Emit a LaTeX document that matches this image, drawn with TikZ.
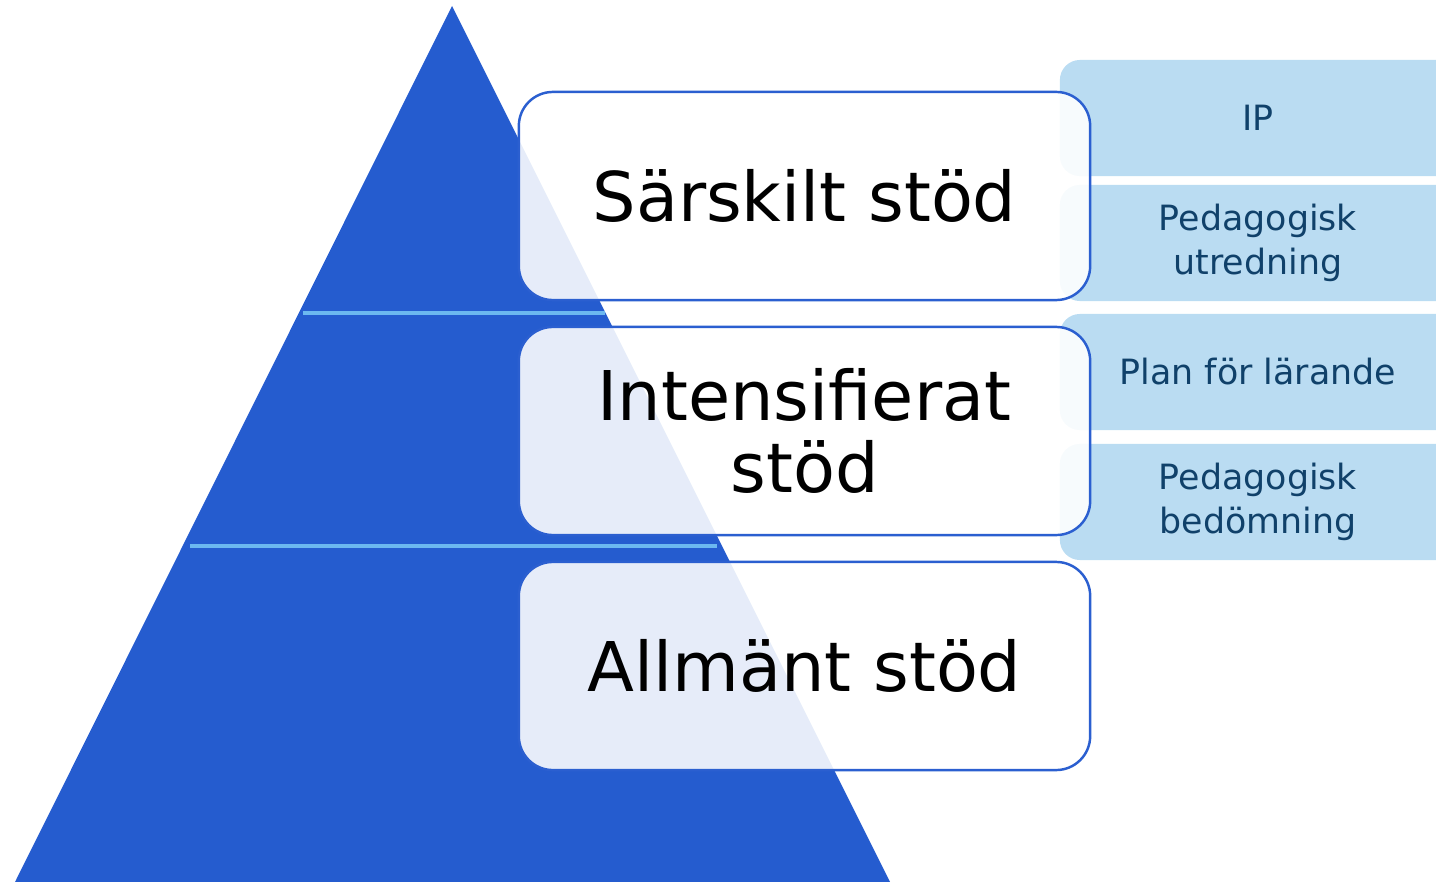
\documentclass[tikz,border=0pt]{standalone}
\usepackage{fontspec}
\setmainfont{DejaVu Sans}
\usepackage{tikz}
\usetikzlibrary{positioning}
\definecolor{pyrblue}{RGB}{37,92,207}
\definecolor{stepline}{RGB}{108,184,240}
\definecolor{docblue}{RGB}{186,220,242}
\definecolor{doctext}{RGB}{16,65,106}
\definecolor{boxedge}{RGB}{43,95,208}

\tikzset{
  levelbox/.style={draw=boxedge, line width=0.7pt, fill=white, fill opacity=0.885,
    text opacity=1, rounded corners=0.34cm, minimum width=5.71cm,
    minimum height=2.08cm, align=center,
    font=\fontsize{19.5}{20.5}\selectfont, text=black},
  docbox/.style={fill=docblue, rounded corners=0.2cm, minimum width=3.96cm,
    minimum height=1.16cm, align=center, font=\fontsize{9.9}{12.4}\selectfont,
    text=doctext}
}

\begin{document}
\begin{tikzpicture}[x=0.01cm, y=-0.01cm]
  \useasboundingbox (0,0) rectangle (1436,882);
  \clip (0,0) rectangle (1436,882);

  % Pyramid
  \fill[pyrblue] (452,6) -- (890,882) -- (15,882) -- cycle;

  % Level separators
  \draw[stepline, line width=1.3pt] (303,313) -- (605,313);
  \draw[stepline, line width=1.3pt] (190,546) -- (717,546);

  % Documents on the right
  \node[docbox] (ip) at (1258,118) {IP};
  \node[docbox] (utredning) at (1258,243) {Pedagogisk\\utredning};
  \node[docbox] (plan) at (1258,372) {Plan för lärande};
  \node[docbox] (bedomning) at (1258,502) {Pedagogisk\\bedömning};

  % Support levels
  \node[levelbox] (sarskilt) at (804.5,196) {Särskilt stöd};
  \node[levelbox] (intensifierat) at (804.5,431) {Intensifierat\\stöd};
  \node[levelbox] (allmant) at (804.5,666) {Allmänt stöd};
\end{tikzpicture}
\end{document}
